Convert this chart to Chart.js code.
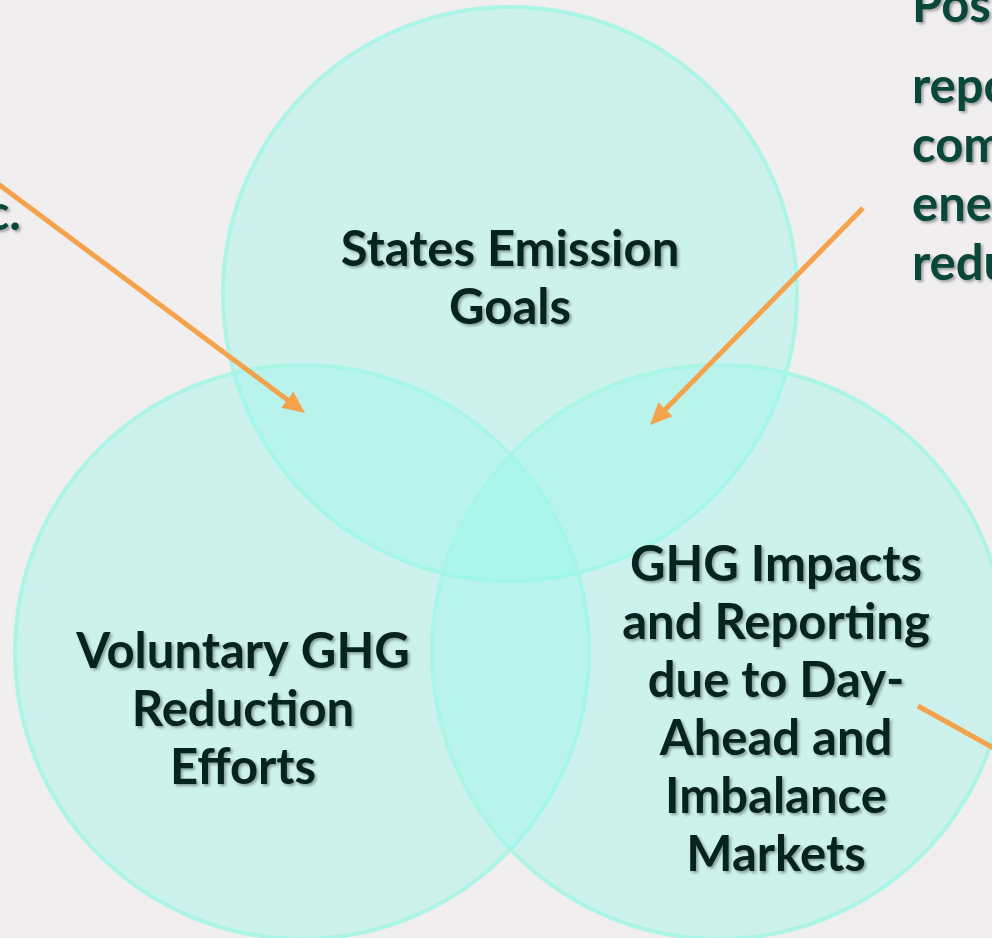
<!DOCTYPE html>
<html lang="en">

<head>
    <meta charset="UTF-8">
    <meta name="viewport" content="width=device-width, initial-scale=1.0">
    <title>GHG Venn Diagram</title>
    <style>
        body {
            margin: 0;
            background-color: #f0eeef;
            overflow: hidden;
        }

        .chart-container {
            width: 992px;
            height: 938px;
        }
    </style>
</head>

<body>

    <div class="chart-container">
        <canvas id="vennChart" width="992" height="938"></canvas>
    </div>

    <script src="https://cdn.jsdelivr.net/npm/chart.js"></script>
    <script>
        // Circles (centre x, centre y in page units, radius)
        const circleNames = ['States Emission Goals', 'Voluntary GHG Reduction Efforts', 'GHG Impacts and Reporting due to Day-Ahead and Imbalance Markets'];
        const circleX = [510, 302, 719];
        const circleY = [294, 652, 652];
        const circleR = [287, 287, 287];

        // Text lines inside each circle
        const topLines = ['States Emission', 'Goals'];
        const leftLines = ['Voluntary GHG', 'Reduction', 'Efforts'];
        const rightLines = ['GHG Impacts', 'and Reporting', 'due to Day-', 'Ahead and', 'Imbalance', 'Markets'];

        // Text outside the circles (cut by the page edge)
        const sideHeadRight = ['Possible'];
        const sideLinesRight = ['reporting', 'compliance', 'energy', 'reductions'];
        const sideLinesLeft = ['etc.'];

        // Orange callout arrows
        const arrowX1 = [-10, 863, 918];
        const arrowY1 = [178, 208, 706];
        const arrowX2 = [305, 650, 1015];
        const arrowY2 = [413, 425, 760];
        const arrowHeads = [true, true, false];

        // Draw text lines centred or left aligned at a value position
        function drawLines(ctx, xScale, yScale, lines, x, firstY, step, align, color, size) {
            ctx.save();
            ctx.font = 'bold ' + size + 'px Lato, "Open Sans", sans-serif';
            ctx.textAlign = align;
            ctx.textBaseline = 'alphabetic';
            ctx.fillStyle = color;
            ctx.shadowColor = 'rgba(0, 0, 0, 0.35)';
            ctx.shadowOffsetX = 2;
            ctx.shadowOffsetY = 2;
            ctx.shadowBlur = 3;
            lines.forEach((line, i) => {
                ctx.fillText(line, xScale.getPixelForValue(x), yScale.getPixelForValue(firstY + i * step));
            });
            ctx.restore();
        }

        const annotations = {
            id: 'vennAnnotations',
            afterDatasetsDraw(chart) {
                const ctx = chart.ctx;
                const xs = chart.scales.x;
                const ys = chart.scales.y;

                // arrows
                ctx.save();
                ctx.strokeStyle = '#f4a34c';
                ctx.fillStyle = '#f4a34c';
                ctx.lineWidth = 5;
                for (let i = 0; i < arrowX1.length; i++) {
                    const x1 = xs.getPixelForValue(arrowX1[i]);
                    const y1 = ys.getPixelForValue(arrowY1[i]);
                    const x2 = xs.getPixelForValue(arrowX2[i]);
                    const y2 = ys.getPixelForValue(arrowY2[i]);
                    const ang = Math.atan2(y2 - y1, x2 - x1);
                    const head = arrowHeads[i] ? 20 : 0;
                    ctx.beginPath();
                    ctx.moveTo(x1, y1);
                    ctx.lineTo(x2 - head * Math.cos(ang), y2 - head * Math.sin(ang));
                    ctx.stroke();
                    if (arrowHeads[i]) {
                        ctx.beginPath();
                        ctx.moveTo(x2, y2);
                        ctx.lineTo(x2 - 22 * Math.cos(ang) + 10 * Math.sin(ang), y2 - 22 * Math.sin(ang) - 10 * Math.cos(ang));
                        ctx.lineTo(x2 - 22 * Math.cos(ang) - 10 * Math.sin(ang), y2 - 22 * Math.sin(ang) + 10 * Math.cos(ang));
                        ctx.closePath();
                        ctx.fill();
                    }
                }
                ctx.restore();

                // labels
                const dark = '#06241d';
                const green = '#08473a';
                drawLines(ctx, xs, ys, topLines, 510, 266, 58, 'center', dark, 49);
                drawLines(ctx, xs, ys, leftLines, 243, 668, 58, 'center', dark, 49);
                drawLines(ctx, xs, ys, rightLines, 776, 581, 58, 'center', dark, 49);
                drawLines(ctx, xs, ys, sideHeadRight, 912, 22, 59, 'left', green, 49);
                drawLines(ctx, xs, ys, sideLinesRight, 912, 103, 59, 'left', green, 49);
                drawLines(ctx, xs, ys, sideLinesLeft, 21, 230, 59, 'right', green, 49);
            }
        };

        const ctx = document.getElementById('vennChart').getContext('2d');
        new Chart(ctx, {
            type: 'bubble',
            data: {
                labels: circleNames,
                datasets: [{
                    label: 'Circles',
                    data: circleX.map((x, i) => ({ x: x, y: circleY[i], r: circleR[i] })),
                    backgroundColor: 'rgba(152, 248, 236, 0.4)',
                    borderColor: 'rgba(165, 245, 230, 0.9)',
                    borderWidth: 4,
                    clip: false
                }]
            },
            options: {
                responsive: false,
                animation: false,
                events: [],
                layout: { padding: 0, autoPadding: false },
                plugins: {
                    legend: { display: false },
                    tooltip: { enabled: false }
                },
                scales: {
                    x: { type: 'linear', min: 0, max: 992, display: false },
                    y: { type: 'linear', min: 0, max: 938, reverse: true, display: false }
                }
            },
            plugins: [annotations]
        });
    </script>
</body>

</html>
